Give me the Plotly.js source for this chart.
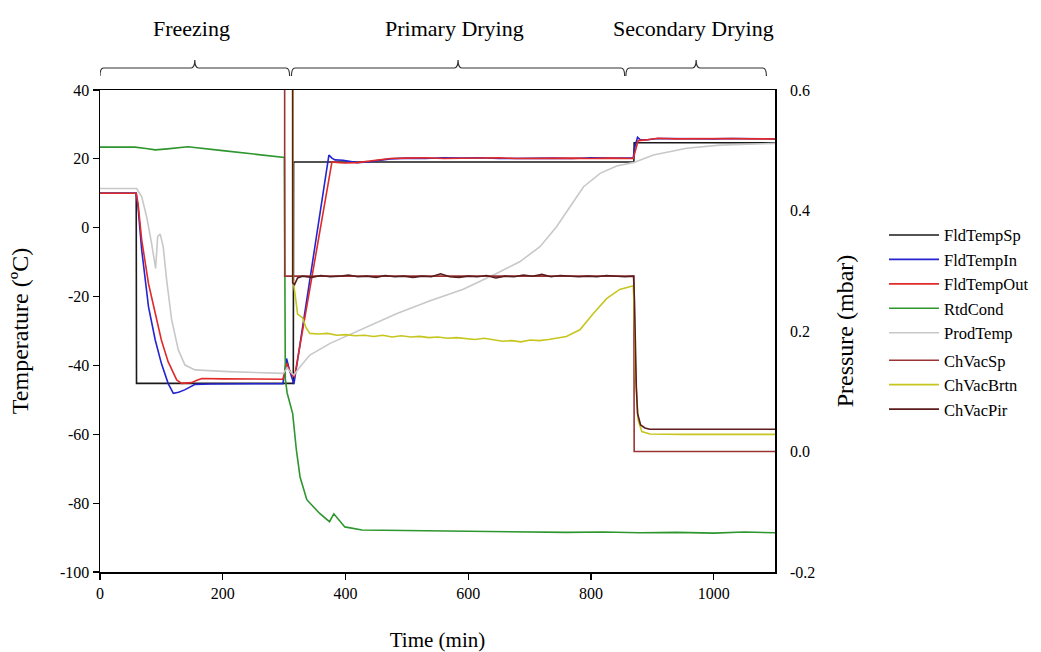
<!DOCTYPE html>
<html><head><meta charset="utf-8">
<script src="https://cdn.plot.ly/plotly-3.0.1.min.js"></script>
<style>html,body{margin:0;padding:0;background:#fff}</style>
</head><body>
<div id="chart" style="width:1041px;height:652px"></div>
<script>
// ---------- DATA ----------
const fldTempSpTime = [0, 59, 59.5, 315, 315.5, 870, 870.5, 1100];
const fldTempSpVal  = [10, 10, -45.2, -45.2, 19.1, 19.1, 24.7, 24.7];

const fldTempInTime = [0, 59, 62, 68, 79, 90, 100, 111, 119.5, 128, 138, 147, 155, 180, 220, 260, 298, 301, 304, 309, 313, 316, 373, 378, 383, 396, 419, 440, 473, 500, 530, 560, 590, 620, 650, 680, 710, 740, 770, 800, 830, 869, 871, 874, 876, 880, 889, 909, 940, 970, 1000, 1030, 1060, 1100];
const fldTempInVal  = [10, 10, 6, -6.5, -22.9, -32.6, -39.4, -45.2, -48.1, -47.8, -47.1, -46.3, -45.5, -45.4, -45.3, -45.4, -45.3, -42, -38, -41.5, -44, -45.4, 21.1, 20.2, 19.7, 19.6, 18.9, 19.2, 20.0, 20.2, 20.1, 20.3, 20.2, 20.3, 20.1, 20.2, 20.3, 20.2, 20.1, 20.3, 20.2, 20.2, 23.0, 25.6, 26.3, 25.6, 25.5, 25.9, 25.8, 25.9, 25.8, 25.9, 25.8, 25.8];

const fldTempOutTime = [0, 59, 62, 68, 79, 90, 100, 111, 125, 133, 149, 158, 166, 200, 250, 298, 301, 304, 308, 312, 317, 378, 390, 400, 419, 440, 473, 500, 530, 560, 590, 620, 650, 680, 710, 740, 770, 800, 830, 869, 871, 877, 889, 909, 940, 970, 1000, 1030, 1060, 1100];
const fldTempOutVal  = [10, 10, 7, -3.6, -16.2, -24.9, -32.6, -38.9, -44.2, -45.2, -45.0, -44.3, -43.8, -43.9, -44.0, -44.0, -42, -39.3, -41, -42.5, -43.3, 19.1, 18.9, 18.8, 18.9, 19.4, 20.1, 20.2, 20.3, 20.1, 20.2, 20.2, 20.3, 20.1, 20.2, 20.3, 20.2, 20.1, 20.2, 20.1, 21.5, 25.3, 25.5, 26.0, 25.8, 25.9, 25.8, 25.9, 25.8, 25.8];

const rtdCondTime = [0, 57, 75, 90, 110, 143, 200, 250, 298, 300.5, 302, 305, 314, 320, 326, 337, 358, 371, 374, 381, 399, 427, 470, 520, 580, 640, 700, 760, 820, 880, 940, 1000, 1050, 1100];
const rtdCondVal  = [23.4, 23.4, 23.0, 22.6, 22.9, 23.5, 22.4, 21.4, 20.6, 20.4, -44, -48, -54, -64.5, -72.4, -79, -83, -85, -85.4, -83.1, -86.9, -87.8, -87.9, -88.0, -88.1, -88.2, -88.3, -88.5, -88.4, -88.6, -88.5, -88.7, -88.4, -88.6];

const prodTempTime = [0, 59.7, 68, 76, 84, 90.6, 94, 98, 103, 108.6, 116.8, 127.6, 138.5, 154.8, 209, 298.7, 302, 305, 310, 316, 326, 342, 375, 429, 484, 538, 592, 647, 684, 717, 744, 766, 788, 815, 842, 869, 902, 956, 1010, 1100];
const prodTempVal  = [11.4, 11.4, 9, 3.2, -4.5, -11.8, -2.6, -1.8, -5.5, -15.2, -26.8, -35.5, -39.9, -41.3, -41.8, -42.3, -41.5, -40.8, -41.8, -42.8, -40.4, -37, -33.6, -29.2, -24.9, -21.2, -17.9, -13.2, -9.9, -5.5, 0.3, 6.1, 11.9, 15.8, 17.9, 18.9, 21.1, 23.1, 24.0, 24.5];

const chVacSpTime = [0, 300.5, 301, 870, 870.5, 1100];
const chVacSpVal  = [1000, 1000, 0.291, 0.291, 0.0, 0.0];

const chVacBrtnTime = [0, 313.8, 314.5, 318, 322, 330, 336, 342, 356, 371, 386, 401, 416, 431, 446, 461, 476, 491, 506, 521, 536, 551, 566, 581, 596, 611, 626, 641, 656, 671, 686, 701, 716, 731, 746, 760, 782, 804, 826, 847, 869, 870.5, 873, 877, 883, 896, 950, 1000, 1050, 1100];
const chVacBrtnVal  = [1000, 1000, 0.285, 0.26, 0.228, 0.222, 0.205, 0.196, 0.195, 0.196, 0.193, 0.194, 0.192, 0.193, 0.191, 0.193, 0.190, 0.192, 0.190, 0.191, 0.189, 0.190, 0.188, 0.189, 0.187, 0.186, 0.188, 0.185, 0.183, 0.184, 0.182, 0.185, 0.184, 0.186, 0.188, 0.191, 0.202, 0.229, 0.254, 0.269, 0.275, 0.24, 0.12, 0.052, 0.033, 0.029, 0.0285, 0.029, 0.0285, 0.0285];

const chVacPirTime = [0, 313.5, 314, 317, 322, 330, 345, 360, 375, 390, 405, 420, 435, 450, 465, 480, 495, 510, 525, 540, 555, 570, 585, 600, 615, 630, 645, 660, 675, 690, 705, 720, 735, 750, 765, 780, 795, 810, 825, 840, 855, 869.5, 871, 874, 876, 881, 888, 896, 950, 1000, 1050, 1100];
const chVacPirVal  = [1000, 1000, 0.28, 0.277, 0.288, 0.291, 0.289, 0.292, 0.290, 0.291, 0.293, 0.290, 0.291, 0.289, 0.292, 0.290, 0.291, 0.289, 0.291, 0.290, 0.295, 0.290, 0.289, 0.291, 0.290, 0.292, 0.288, 0.291, 0.290, 0.293, 0.291, 0.294, 0.290, 0.292, 0.291, 0.290, 0.291, 0.290, 0.292, 0.291, 0.290, 0.291, 0.25, 0.108, 0.063, 0.044, 0.039, 0.037, 0.037, 0.0365, 0.037, 0.037];

const timeTicks = [0, 200, 400, 600, 800, 1000];
const tempTicks = [-100, -80, -60, -40, -20, 0, 20, 40];
const tempTickText = ['-100', '-80', '-60', '-40', '-20', '0', '20', '40'];
const presTicks = [-0.2, 0.0, 0.2, 0.4, 0.6];
const presTickText = ['-0.2', '0.0', '0.2', '0.4', '0.6'];

const phaseNames = ['Freezing', 'Primary Drying', 'Secondary Drying'];
const phaseStart = [0, 312, 857];
const phaseEnd   = [309, 855, 1086];

// ---------- CHART ----------
const serif = '"Liberation Serif", "Times New Roman", serif';

function tr(name, x, y, color, axis, group) {
  return {type: 'scatter', mode: 'lines', name: name, x: x, y: y, yaxis: axis,
          legendgroup: group, line: {color: color, width: 1.6}, hoverinfo: 'skip'};
}

const traces = [
  tr('FldTempSp',  fldTempSpTime,  fldTempSpVal,  '#1a1a1a', 'y',  'temp'),
  tr('FldTempIn',  fldTempInTime,  fldTempInVal,  '#2424d0', 'y',  'temp'),
  tr('FldTempOut', fldTempOutTime, fldTempOutVal, '#e02a2a', 'y',  'temp'),
  tr('RtdCond',    rtdCondTime,    rtdCondVal,    '#2e962e', 'y',  'temp'),
  tr('ProdTemp',   prodTempTime,   prodTempVal,   '#c8c8c8', 'y',  'temp'),
  tr('ChVacSp',    chVacSpTime,    chVacSpVal,    '#9a3434', 'y2', 'pres'),
  tr('ChVacBrtn',  chVacBrtnTime,  chVacBrtnVal,  '#c6c61e', 'y2', 'pres'),
  tr('ChVacPir',   chVacPirTime,   chVacPirVal,   '#5c1c1c', 'y2', 'pres')
];

const yb = 1.029, yh = 1.0456, yt = 1.062, r = 6;
const shapes = phaseNames.map((n, i) => {
  const x0 = phaseStart[i], x1 = phaseEnd[i], xc = (x0 + x1) / 2;
  return {type: 'path', xref: 'x', yref: 'paper', layer: 'above',
    path: `M ${x0},${yb} Q ${x0},${yh} ${x0 + r},${yh} L ${xc - r},${yh} Q ${xc},${yh} ${xc},${yt} ` +
          `Q ${xc},${yh} ${xc + r},${yh} L ${x1 - r},${yh} Q ${x1},${yh} ${x1},${yb}`,
    line: {color: '#333', width: 1.2}};
});
const annotations = phaseNames.map((n, i) => ({
  text: n, xref: 'x', yref: 'paper', x: (phaseStart[i] + phaseEnd[i]) / 2 - 5, y: 1.1286,
  xanchor: 'center', yanchor: 'middle', showarrow: false, font: {size: 22, family: serif, color: '#000'}
}));

const axisCommon = {showgrid: false, zeroline: false, showline: true, linecolor: '#000', linewidth: 1.5, automargin: false,
  ticks: 'outside', ticklen: 6, tickwidth: 1.2, tickcolor: '#000', tickfont: {size: 16, family: serif, color: '#000'}};

const layout = {
  width: 1041, height: 652,
  margin: {l: 100, r: 266, t: 90, b: 80, autoexpand: false},
  paper_bgcolor: '#fff', plot_bgcolor: '#fff',
  font: {family: serif, size: 16, color: '#000'},
  showlegend: true,
  legend: {x: 1.1615, xanchor: 'left', y: 0.735, yanchor: 'top', font: {size: 16.5, family: serif, color: '#000'},
           bgcolor: 'rgba(0,0,0,0)', tracegroupgap: 3, traceorder: 'grouped', itemwidth: 50},
  xaxis: Object.assign({}, axisCommon, {range: [0, 1100], tickvals: timeTicks, mirror: true,
    title: {text: 'Time (min)', font: {size: 21, family: serif}, standoff: 31}}),
  yaxis: Object.assign({}, axisCommon, {range: [-100, 40], tickvals: tempTicks, ticktext: tempTickText, mirror: true,
    title: {text: 'Temperature (ºC)', font: {size: 24, family: serif}, standoff: 24}}),
  yaxis2: {overlaying: 'y', side: 'right', range: [-0.2, 0.6], tickvals: presTicks, ticktext: presTickText,
    showgrid: false, zeroline: false, showline: false, ticks: '', ticklabelstandoff: 14, automargin: false,
    tickfont: {size: 16, family: serif, color: '#000'},
    title: {text: 'Pressure (mbar)', font: {size: 24, family: serif}, standoff: 21}},
  shapes: shapes,
  annotations: annotations
};

Plotly.newPlot('chart', traces, layout, {displayModeBar: false, staticPlot: true});
</script>
</body></html>
